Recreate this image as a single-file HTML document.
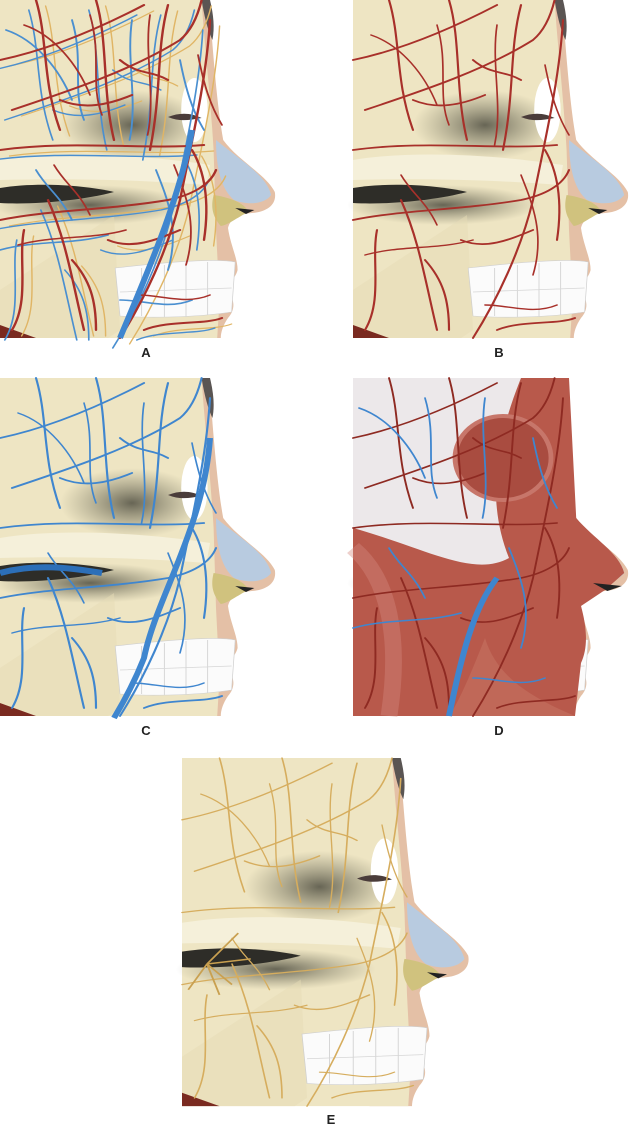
<!DOCTYPE html>
<html><head><meta charset="utf-8"><style>
html,body{margin:0;padding:0;background:#fff;}
svg{display:block}
.lab{font-family:"Liberation Sans",sans-serif;font-weight:bold;font-size:13px;fill:#222}
</style></head><body>
<svg width="640" height="1128" viewBox="0 0 640 1128" xmlns="http://www.w3.org/2000/svg">
<defs>
<radialGradient id="orb" cx="50%" cy="50%" r="50%"><stop offset="0" stop-color="#3a3a30" stop-opacity=".75"/><stop offset="1" stop-color="#6b6a55" stop-opacity="0"/></radialGradient>
<g id="base">
  <path d="M150,0 L174,0 C177,40 180,100 186,140 C198,160 222,175 229,192 C231,205 222,212 210,213 C200,214 192,218 190,228 C192,245 198,258 198,270 C196,280 188,284 190,292 C196,300 196,310 190,318 C186,325 184,332 184,338 L150,338Z" fill="#e4c0a6"/>
  <path d="M168,0 L175,0 C178,15 179,28 177,40 C173,30 170,15 168,0Z" fill="#5a5553"/>
  <path d="M0,0 L168,0 C170,40 175,90 178,150 L180,230 L183,300 L181,338 L0,338Z" fill="#eee5c3"/>
  <ellipse cx="110" cy="125" rx="60" ry="35" fill="url(#orb)"/>
  <ellipse cx="75" cy="205" rx="80" ry="20" fill="url(#orb)"/>
  <path d="M0,160 C50,150 120,155 175,165 L172,185 C120,180 60,178 0,180Z" fill="#f5f0da"/>
  <path d="M0,188 C30,182 70,185 95,192 C70,200 30,205 0,203Z" fill="#2e2d28"/>
  <path d="M95,215 L100,330 L90,338 L0,338 L0,290Z" fill="#e6dcb6" opacity=".5"/>
  <ellipse cx="162" cy="110" rx="11" ry="32" fill="#fff"/>
  <path d="M140,117 C150,112 160,113 168,118 C158,120 150,122 140,117Z" fill="#4a3c3a"/>
  <path d="M180,140 C200,160 222,175 226,195 C220,205 205,205 195,200 C185,190 180,170 180,140Z" fill="#b8cbe0"/>
  <path d="M178,195 C195,198 205,205 207,212 C197,218 190,225 184,226 C176,215 176,205 178,195Z" fill="#d0c27e"/>
  <path d="M196,208 L212,210 L205,214Z" fill="#222"/>
  <path d="M96,268 C140,262 180,258 196,262 L193,312 C160,318 120,318 100,316Z" fill="#fbfbfb" stroke="#cfcfcf" stroke-width=".6"/>
  <path d="M100,292 L193,288 M118,268 L118,316 M137,265 L137,317 M155,263 L155,317 M173,262 L173,315" stroke="#d6d6d6" stroke-width=".8" fill="none"/>
  <path d="M0,325 L30,338 L0,338Z" fill="#7a2a20"/>
</g>
<g id="v1" fill="none" stroke-linecap="round">
  <path d="M0,60 C40,50 80,30 120,5"/><path d="M10,110 C60,90 110,70 150,40 C160,30 165,15 168,0"/>
  <path d="M0,150 C60,140 120,150 170,145"/><path d="M30,0 C40,40 35,80 50,130"/>
  <path d="M80,0 C90,40 85,90 95,140"/><path d="M140,5 C130,50 135,90 125,150"/>
  <path d="M0,220 C40,210 90,210 140,200 C160,195 175,185 180,170"/>
  <path d="M40,200 C55,240 60,280 70,330"/><path d="M20,230 C15,260 25,300 10,330"/>
  <path d="M175,20 C172,80 160,140 150,200 C140,250 120,300 100,338"/>
  <path d="M90,240 C110,250 130,240 150,230"/><path d="M60,260 C75,280 80,300 80,330"/>
  <path d="M120,330 C140,320 170,325 185,318"/><path d="M160,150 C170,170 175,200 170,240"/>
  <path d="M50,100 C70,110 90,105 110,95"/><path d="M100,60 C115,75 125,70 140,80"/>
</g>
<g id="v2" fill="none" stroke-linecap="round">
  <path d="M5,30 C30,40 50,70 60,100"/><path d="M60,20 C70,60 60,90 70,120"/>
  <path d="M110,20 C105,60 115,100 108,140"/><path d="M0,250 C30,240 60,245 90,235"/>
  <path d="M130,170 C140,200 150,230 140,270"/><path d="M30,170 C40,190 50,195 60,220"/>
  <path d="M150,60 C155,90 160,110 170,130"/><path d="M100,300 C120,300 140,310 160,300"/>
</g>
</defs>
<rect width="640" height="1128" fill="#fff"/>

<!-- A -->
<g transform="translate(0,0) scale(1.2,1)">
 <use href="#base"/>
 <use href="#v1" stroke="#e0b565" stroke-width="1.2" transform="translate(8,6)"/>
 <use href="#v2" stroke="#4a8fd0" stroke-width="1.6"/>
 <use href="#v1" stroke="#4a8fd0" stroke-width="1.4" transform="translate(-6,10)"/>
 <use href="#v1" stroke="#a8302a" stroke-width="2"/>
 <use href="#v2" stroke="#a8302a" stroke-width="1.5" transform="translate(15,-5)"/>
 <path d="M160,130 C150,200 120,280 100,338" stroke="#3f86cf" stroke-width="5" fill="none"/>
</g>
<!-- B -->
<g transform="translate(353,0) scale(1.2,1)">
 <use href="#base"/>
 <use href="#v1" stroke="#a8302a" stroke-width="1.8"/>
 <use href="#v2" stroke="#a8302a" stroke-width="1.4" transform="translate(10,5)"/>
</g>
<!-- C -->
<g transform="translate(0,378) scale(1.2,1)">
 <use href="#base"/>
 <use href="#v1" stroke="#3f86cf" stroke-width="1.8"/>
 <use href="#v2" stroke="#3f86cf" stroke-width="1.4" transform="translate(10,5)"/>
 <path d="M175,60 C170,150 130,220 120,280 C110,310 100,330 95,340" stroke="#3f86cf" stroke-width="5" fill="none"/>
 <path d="M0,195 C30,185 60,190 85,195" stroke="#2c6fb8" stroke-width="6" fill="none"/>
</g>
<!-- D -->
<g transform="translate(353,378) scale(1.2,1)">
 <use href="#base"/>
 <path d="M0,0 L180,0 L186,140 C200,160 222,175 226,195 L210,212 L190,228 C195,250 196,270 190,285 L185,338 L0,338Z" fill="#b8594b"/>
 <path d="M0,0 L140,0 C120,60 110,120 130,180 C100,200 60,170 0,150Z" fill="#ece8ea"/>
 <ellipse cx="125" cy="80" rx="40" ry="42" fill="#a94c40" stroke="#c7766a" stroke-width="4"/>
 <path d="M110,260 C120,300 150,320 185,338 L80,338 C90,320 100,290 110,260Z" fill="#c06858"/>
 <path d="M0,170 C30,200 40,260 30,338" stroke="#d48a80" stroke-width="14" fill="none" opacity=".4"/>
 <path d="M200,205 L224,208 L212,213Z" fill="#222"/>
 <use href="#v1" stroke="#8e2a22" stroke-width="1.6"/>
 <use href="#v2" stroke="#3f86cf" stroke-width="1.5"/>
 <path d="M120,200 C100,230 90,280 80,338" stroke="#3f86cf" stroke-width="5" fill="none"/>
</g>
<!-- E -->
<g transform="translate(182,758) scale(1.25,1.03)">
 <use href="#base"/>
 <use href="#v1" stroke="#d6ad5e" stroke-width="1.3"/>
 <use href="#v2" stroke="#d6ad5e" stroke-width="1.1" transform="translate(10,5)"/>
 <path d="M20,200 L45,170 M20,200 L55,195 M20,200 L30,230 M20,200 L5,225 M20,200 L40,220" stroke="#c9a050" stroke-width="1.5"/>
</g>

<text class="lab" x="146" y="357" text-anchor="middle">A</text>
<text class="lab" x="499" y="357" text-anchor="middle">B</text>
<text class="lab" x="146" y="735" text-anchor="middle">C</text>
<text class="lab" x="499" y="735" text-anchor="middle">D</text>
<text class="lab" x="331" y="1124" text-anchor="middle">E</text>
</svg>
</body></html>
